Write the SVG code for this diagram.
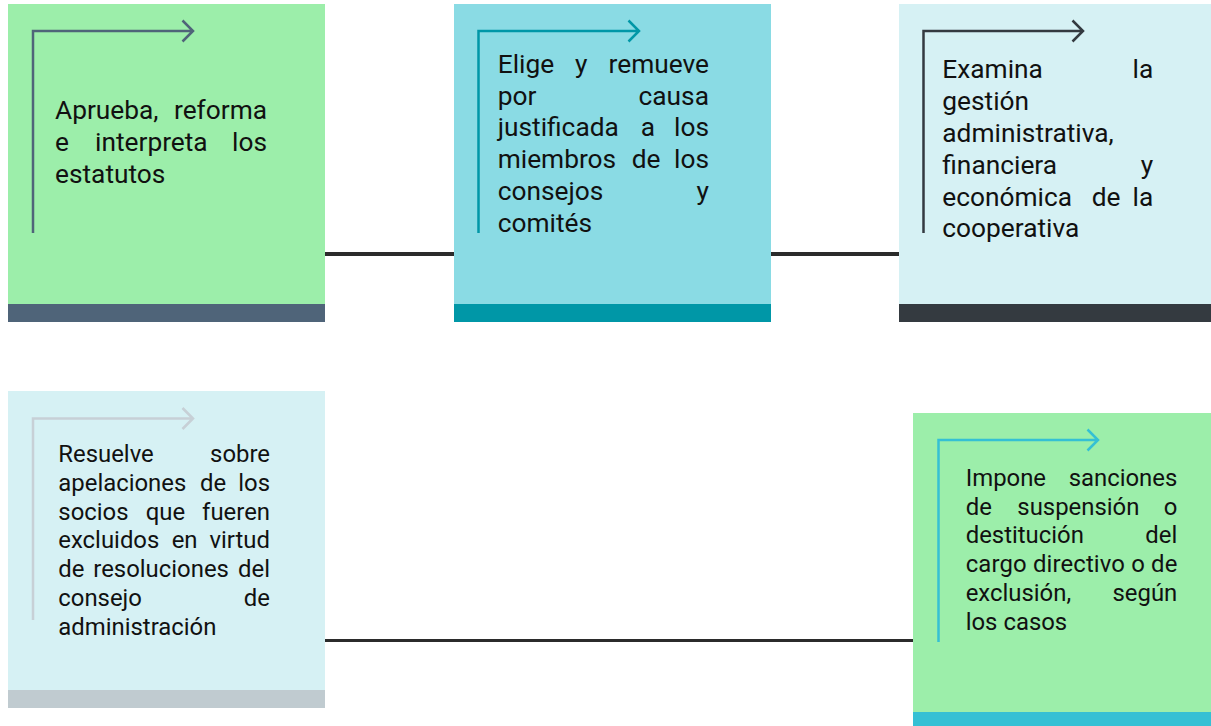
<svg xmlns="http://www.w3.org/2000/svg" width="1211" height="726" viewBox="0 0 1211 726">
<style>
  .t { font-family: Roboto, "Liberation Sans", sans-serif; fill: #111111; }
  .big { font-size: 26.3px; }
  .sm { font-size: 23.9px; }
  .e { text-anchor: end; }
  .arr { fill: none; stroke-width: 2.5; stroke-linecap: butt; stroke-linejoin: miter; }
  .conn { stroke: #2b2b2b; fill: none; }
</style>
<rect width="1211" height="726" fill="#ffffff"/>
<g id="connectors">
  <line class="conn" x1="325" y1="254" x2="454" y2="254" stroke-width="4"/>
  <line class="conn" x1="771" y1="254" x2="899" y2="254" stroke-width="4"/>
  <line class="conn" x1="325" y1="640.5" x2="913" y2="640.5" stroke-width="3"/>
</g>
<g id="node1">
  <rect x="8" y="4" width="317" height="300" fill="#9ceeaa"/>
  <rect x="8" y="304" width="317" height="18" fill="#4f6479"/>
  <path class="arr" stroke="#4f6479" d="M33 233 V31 H193 M182.5 20.5 L193 31 L182.5 41.5"/>
  <text class="t big" x="55" y="119">Aprueba,</text>
  <text class="t big e" x="267" y="119">reforma</text>
  <text class="t big" x="55" y="150.8">e</text>
  <text class="t big" x="95" y="150.8">interpreta</text>
  <text class="t big e" x="267" y="150.8">los</text>
  <text class="t big" x="55" y="182.6">estatutos</text>
</g>
<g id="node2">
  <rect x="454" y="4" width="317" height="300" fill="#8adbe4"/>
  <rect x="454" y="304" width="317" height="18" fill="#0097a7"/>
  <path class="arr" stroke="#0097a7" d="M478.5 233 V31 H639 M628.5 20.5 L639 31 L628.5 41.5"/>
  <text class="t big" x="497.7" y="72.7">Elige</text>
  <text class="t big" x="575" y="72.7">y</text>
  <text class="t big e" x="709" y="72.7">remueve</text>
  <text class="t big" x="497.7" y="104.5">por</text>
  <text class="t big e" x="709" y="104.5">causa</text>
  <text class="t big" x="497.7" y="136.3">justificada</text>
  <text class="t big" x="640.7" y="136.3">a</text>
  <text class="t big e" x="709" y="136.3">los</text>
  <text class="t big" x="497.7" y="168.1">miembros</text>
  <text class="t big" x="631.7" y="168.1">de</text>
  <text class="t big e" x="709" y="168.1">los</text>
  <text class="t big" x="497.7" y="199.9">consejos</text>
  <text class="t big e" x="709" y="199.9">y</text>
  <text class="t big" x="497.7" y="231.7">comités</text>
</g>
<g id="node3">
  <rect x="899" y="4" width="312" height="300" fill="#d6f1f4"/>
  <rect x="899" y="304" width="312" height="18" fill="#343a40"/>
  <path class="arr" stroke="#343a40" d="M923.5 233 V31 H1083 M1072.5 20.5 L1083 31 L1072.5 41.5"/>
  <text class="t big" x="942.3" y="78.3">Examina</text>
  <text class="t big e" x="1153.3" y="78.3">la</text>
  <text class="t big" x="942.3" y="110.1">gestión</text>
  <text class="t big" x="942.3" y="141.9">administrativa,</text>
  <text class="t big" x="942.3" y="173.7">financiera</text>
  <text class="t big e" x="1153.3" y="173.7">y</text>
  <text class="t big" x="942.3" y="205.5">económica</text>
  <text class="t big" x="1091.7" y="205.5">de</text>
  <text class="t big e" x="1153.3" y="205.5">la</text>
  <text class="t big" x="942.3" y="237.3">cooperativa</text>
</g>
<g id="node4">
  <rect x="8" y="391" width="317" height="299" fill="#d6f1f4"/>
  <rect x="8" y="690" width="317" height="18" fill="#c0cbd0"/>
  <path class="arr" stroke="#c7d0d6" d="M33 620 V418.5 H193 M182.5 408 L193 418.5 L182.5 429"/>
  <text class="t sm" x="58.3" y="462.3">Resuelve</text>
  <text class="t sm e" x="270" y="462.3">sobre</text>
  <text class="t sm" x="58.3" y="491">apelaciones</text>
  <text class="t sm" x="200" y="491">de</text>
  <text class="t sm e" x="270" y="491">los</text>
  <text class="t sm" x="58.3" y="519.7">socios</text>
  <text class="t sm" x="145.7" y="519.7">que</text>
  <text class="t sm e" x="270" y="519.7">fueren</text>
  <text class="t sm" x="58.3" y="548.4">excluidos</text>
  <text class="t sm" x="171.7" y="548.4">en</text>
  <text class="t sm e" x="270" y="548.4">virtud</text>
  <text class="t sm" x="58.3" y="577.1">de</text>
  <text class="t sm" x="93.3" y="577.1">resoluciones</text>
  <text class="t sm e" x="270" y="577.1">del</text>
  <text class="t sm" x="58.3" y="605.8">consejo</text>
  <text class="t sm e" x="270" y="605.8">de</text>
  <text class="t sm" x="58.3" y="634.5">administración</text>
</g>
<g id="node5">
  <rect x="913" y="413" width="298" height="299" fill="#9ceeaa"/>
  <rect x="913" y="712" width="298" height="14" fill="#35c0d4"/>
  <path class="arr" stroke="#35c0d4" d="M938.5 642 V440 H1098 M1087.5 429.5 L1098 440 L1087.5 450.5"/>
  <text class="t sm" x="965.7" y="486">Impone</text>
  <text class="t sm e" x="1177.3" y="486">sanciones</text>
  <text class="t sm" x="965.7" y="514.7">de</text>
  <text class="t sm" x="1017.3" y="514.7">suspensión</text>
  <text class="t sm e" x="1177.3" y="514.7">o</text>
  <text class="t sm" x="965.7" y="543.4">destitución</text>
  <text class="t sm e" x="1177.3" y="543.4">del</text>
  <text class="t sm" x="965.7" y="572.1" textLength="211.6" lengthAdjust="spacing">cargo directivo o de</text>
  <text class="t sm" x="965.7" y="600.8">exclusión,</text>
  <text class="t sm e" x="1177.3" y="600.8">según</text>
  <text class="t sm" x="965.7" y="629.5">los casos</text>
</g>
</svg>
